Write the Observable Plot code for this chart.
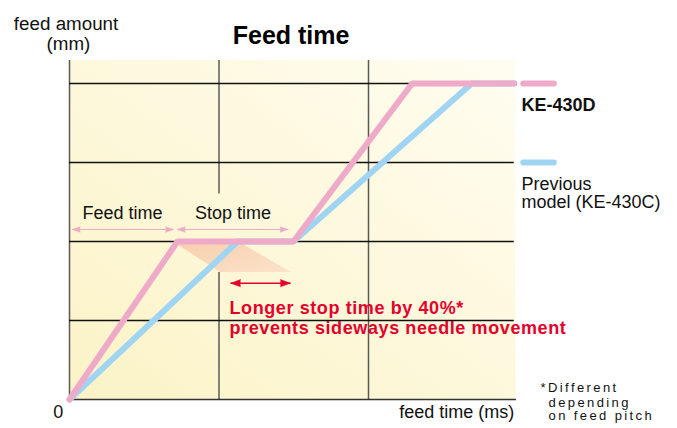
<!DOCTYPE html>
<html>
<head>
<meta charset="utf-8">
<script src="https://cdn.jsdelivr.net/npm/d3@7"></script>
<script src="https://cdn.jsdelivr.net/npm/@observablehq/plot@0.6"></script>
<style>
  html, body { margin: 0; padding: 0; background: #ffffff; }
</style>
</head>
<body>
<div id="chart"></div>
<script>
// ---------- data (grid units: x = feed time, y = feed amount) ----------
const seriesNames = ["KE-430D", "Previous model (KE-430C)"];
const keTime      = [0, 0.722, 1.498, 2.292, 2.975];
const keAmount    = [0, 2, 2, 4, 4];
const prevTime    = [0, 1.125, 1.498, 2.69, 2.975];
const prevAmount  = [0, 2, 2, 4, 4];

const xGrid = [1, 2];           // vertical grid lines
const yGrid = [1, 2, 3, 4];     // horizontal grid lines

// phase spans (feed / stop) and stop-time gain
const feedSpan = [0.018, 0.696];
const stopSpan = [0.72, 1.463];
const gainSpan = [1.077, 1.478];

// shaded "stop time gain" band
const shadowAmount = [1.962, 1.608];
const shadowFrom   = [0.72, 1.01];
const shadowTo     = [1.16, 1.485];

// texts
const titleText   = "Feed time";
const yLabelLines = ["feed amount", "(mm)"];
const xLabelText  = "feed time (ms)";
const zeroLabel   = "0";
const phaseLabels = ["Feed time", "Stop time"];
const gainLines   = ["Longer stop time by 40%*", "prevents sideways needle movement"];
const noteLines   = ["*Different", "depending", "on feed pitch"];

// colors
const PINK = "#eeaac8", BLUE = "#9fd5f3", RED = "#e3002c";
const FONT = "'Liberation Sans', Arial, Helvetica, sans-serif";

// ---------- tables ----------
const keRows   = keTime.map((t, i) => ({series: seriesNames[0], t, a: keAmount[i]}));
const prevRows = prevTime.map((t, i) => ({series: seriesNames[1], t, a: prevAmount[i]}));
const shadowRows = shadowAmount.map((a, i) => ({a, x1: shadowFrom[i], x2: shadowTo[i]}));
const spanRows = [
  {x1: feedSpan[0], x2: feedSpan[1], y: 2.152},
  {x1: stopSpan[0], x2: stopSpan[1], y: 2.152}
];
const gainRow = [{x1: gainSpan[0], x2: gainSpan[1], y: 1.472}];
const vGridRows = [
  {x: 0, y1: 0, y2: 4.29},
  {x: xGrid[0], y1: 0, y2: 1.608}, {x: xGrid[0], y1: 2.6, y2: 4.29},
  {x: xGrid[1], y1: 0, y2: 4.29}
];

const heads = (rows) => rows.flatMap(r => [
  {x: r.x1, y: r.y, rot: -90},
  {x: r.x2, y: r.y, rot: 90}
]);

const txt = (text, o) => Plot.text([text], {text: d => d, fontFamily: FONT, lineAnchor: "bottom", ...o});

const plot = Plot.plot({
  width: 677,
  height: 428,
  marginLeft: 69,
  marginRight: 159.5,
  marginTop: 83,
  marginBottom: 29,
  x: {domain: [0, 3], axis: null},
  y: {domain: [0, 4], axis: null},
  style: {fontFamily: FONT, background: "#ffffff", overflow: "visible"},
  marks: [
    // plot background
    Plot.rect([0], {x1: 0, x2: 2.985, y1: 0, y2: 4.29, fill: "url(#bgGrad)"}),
    // shadow band
    Plot.areaX(shadowRows, {y: "a", x1: "x1", x2: "x2", fill: "url(#shGrad)"}),
    // grid
    Plot.ruleX(vGridRows, {x: "x", y1: "y1", y2: "y2", stroke: "#5a5a5a", strokeWidth: 1.5}),
    Plot.ruleY(yGrid, {x1: 0, x2: 2.975, stroke: "#111", strokeWidth: 1.3}),
    Plot.ruleY([0], {x1: 0, x2: 2.99, stroke: "#333", strokeWidth: 1.6}),
    // series
    Plot.line(prevRows, {x: "t", y: "a", stroke: BLUE, strokeWidth: 6, strokeLinecap: "round", strokeLinejoin: "miter"}),
    Plot.line(keRows, {x: "t", y: "a", stroke: PINK, strokeWidth: 6, strokeLinecap: "round", strokeLinejoin: "miter"}),
    // legend swatches
    Plot.link(seriesNames, {x1: 3.035, x2: 3.24, y1: (d, i) => [4, 3][i], y2: (d, i) => [4, 3][i],
      stroke: (d, i) => [PINK, BLUE][i], strokeWidth: 6, strokeLinecap: "round"}),
    // span arrows
    Plot.link(spanRows, {x1: "x1", x2: "x2", y1: "y", y2: "y", stroke: PINK, strokeWidth: 1}),
    Plot.vector(heads(spanRows), {x: "x", y: "y", rotate: "rot", length: 8, r: 2.8, shape: "spike", anchor: "end",
      fill: PINK, stroke: PINK, strokeWidth: 0.5}),
    Plot.link(gainRow, {x1: "x1", x2: "x2", y1: "y", y2: "y", stroke: RED, strokeWidth: 1.4}),
    Plot.vector(heads(gainRow), {x: "x", y: "y", rotate: "rot", length: 10, r: 3.6, shape: "spike", anchor: "end",
      fill: RED, stroke: RED, strokeWidth: 0.5}),
    // texts
    txt(titleText, {x: 1.482, y: 4.506, fontSize: 25, fontWeight: "bold", fill: "#000"}),
    txt(yLabelLines[0], {x: -0.023, y: 4.671, fontSize: 18.8, fill: "#111"}),
    txt(yLabelLines[1], {x: -0.007, y: 4.43, fontSize: 18.8, fill: "#111"}),
    txt(zeroLabel, {x: -0.075, y: -0.24, fontSize: 18, fill: "#111"}),
    txt(xLabelText, {x: 2.975, y: -0.24, fontSize: 18, textAnchor: "end", fill: "#111"}),
    txt(phaseLabels[0], {x: 0.355, y: 2.291, fontSize: 18, fill: "#111"}),
    txt(phaseLabels[1], {x: 1.094, y: 2.291, fontSize: 18, fill: "#111"}),
    txt(gainLines[0], {x: 1.07, y: 1.076, fontSize: 18, fontWeight: "bold", textAnchor: "start", fill: RED}),
    txt(gainLines[1], {x: 1.07, y: 0.823, fontSize: 18, fontWeight: "bold", textAnchor: "start", fill: RED}),
    txt(seriesNames[0], {x: 3.023, y: 3.646, fontSize: 18, fontWeight: "bold", textAnchor: "start", fill: "#111"}),
    txt("Previous", {x: 3.023, y: 2.658, fontSize: 18, textAnchor: "start", fill: "#111"}),
    txt("model (KE-430C)", {x: 3.023, y: 2.418, fontSize: 18, textAnchor: "start", fill: "#111"}),
    txt(noteLines[0], {x: 3.151, y: 0.089, fontSize: 13, textAnchor: "start", fill: "#111"}),
    txt(noteLines[1], {x: 3.204, y: -0.1, fontSize: 13, textAnchor: "start", fill: "#111"}),
    txt(noteLines[2], {x: 3.204, y: -0.265, fontSize: 13, textAnchor: "start", fill: "#111"})
  ]
});

const svg = d3.select(plot);
svg.insert("defs", ":first-child").html(`
  <linearGradient id="bgGrad" x1="0" y1="1" x2="1" y2="0">
    <stop offset="0" stop-color="#fbf3c6"/>
    <stop offset="1" stop-color="#fffdf1"/>
  </linearGradient>
  <linearGradient id="shGrad" x1="0" y1="0" x2="1" y2="1">
    <stop offset="0" stop-color="#f8cfae"/>
    <stop offset="1" stop-color="#fbe2ca"/>
  </linearGradient>`);
svg.selectAll("text").filter(function () { return gainLines.includes(this.textContent); })
  .attr("letter-spacing", "0.6px");
svg.selectAll("text").filter(function () { return noteLines.includes(this.textContent); })
  .attr("letter-spacing", "2.4px");

document.getElementById("chart").appendChild(plot);
</script>
</body>
</html>
